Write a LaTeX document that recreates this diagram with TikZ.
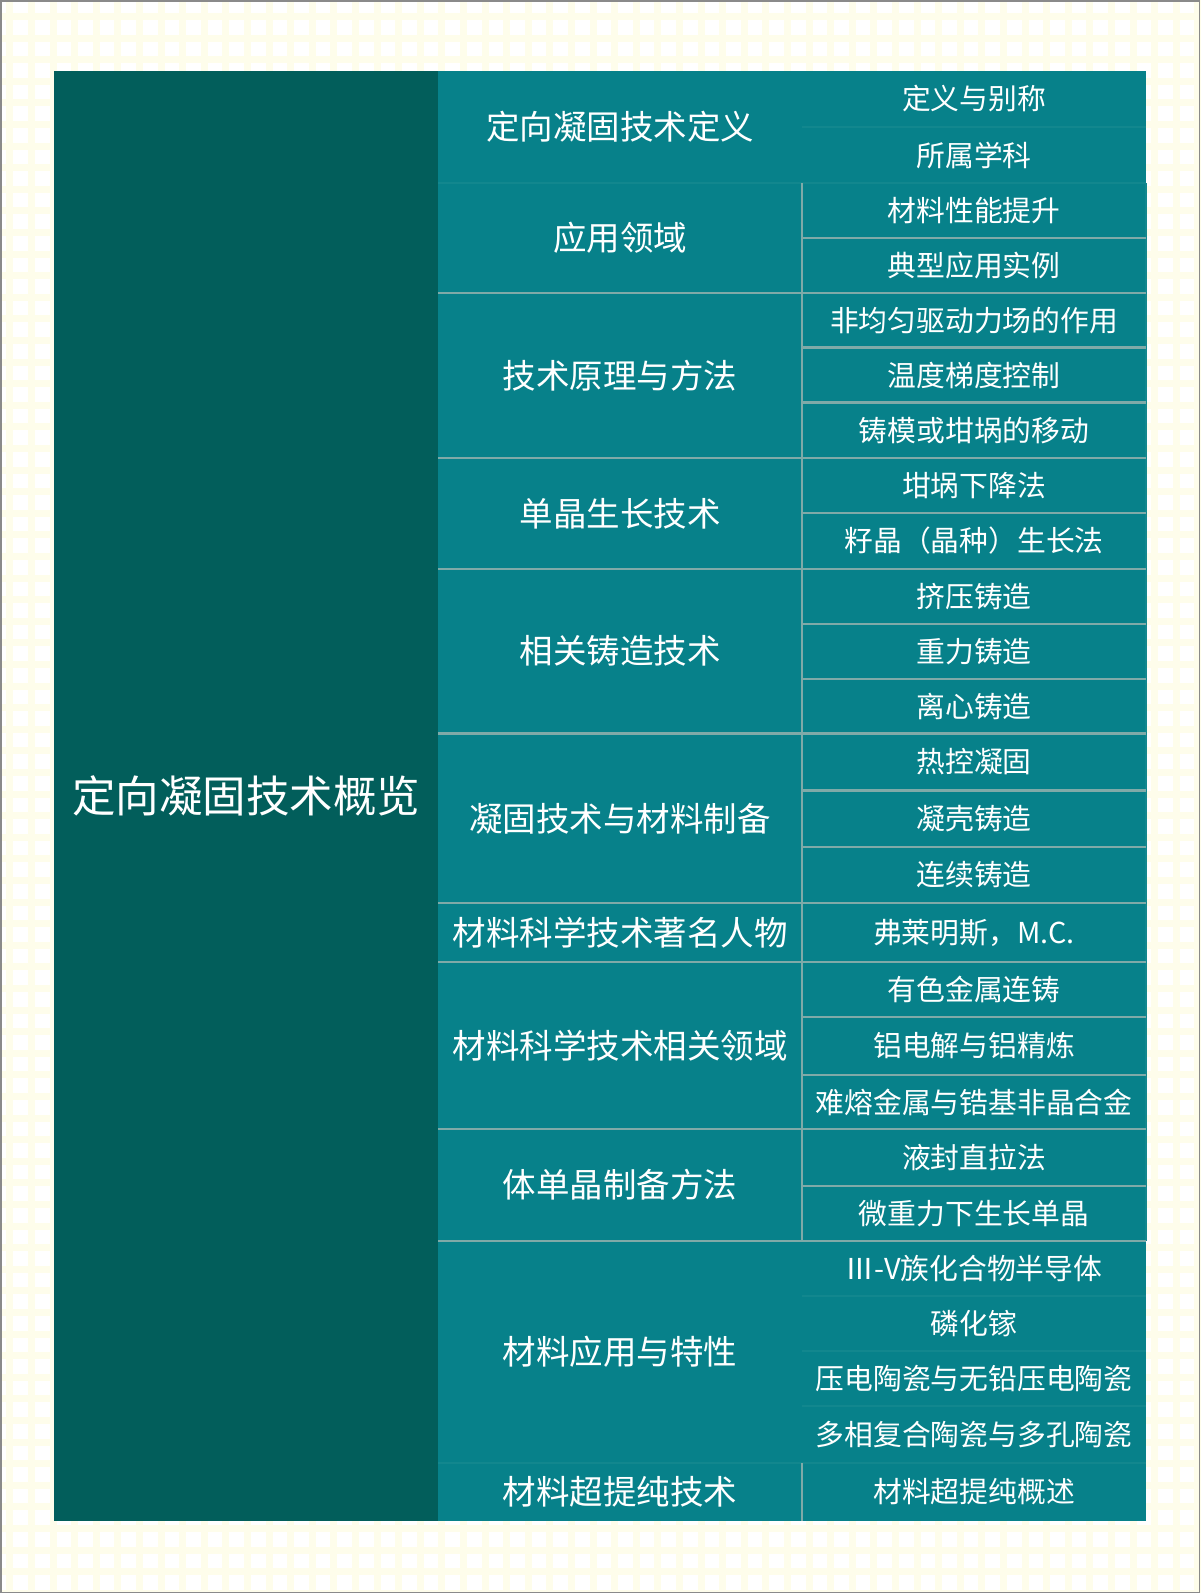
\documentclass[tikz,border=0pt]{standalone}
\usepackage{fontspec}
\setmainfont{Noto Sans CJK SC}
\definecolor{rootcol}{HTML}{025E5B}
\definecolor{tealcol}{HTML}{07818A}
\definecolor{linecol}{HTML}{7FAAA8}
\definecolor{faintcol}{HTML}{12878E}
\definecolor{gridcol}{HTML}{FEFDEB}
\definecolor{framecol}{HTML}{8A8A8A}
\newcommand\mkmid[4]{\node[midc, minimum height={#3-#2}] (#1) at (620,{(#2+#3)/2}) {#4};}
\newcommand\mkleaf[4]{\node[leafc, minimum height={#3-#2}] (#1) at (974,{(#2+#3)/2}) {#4};}
\begin{document}
\begin{tikzpicture}[x=1pt,y=-1pt,
  cellbase/.style={inner sep=0pt, outer sep=0pt, draw=none, text=white, anchor=center},
  rootc/.style={cellbase, fill=rootcol, minimum width=384, font=\fontsize{43.5}{50}\selectfont},
  midc/.style={cellbase, fill=tealcol, minimum width=364, font=\fontsize{33.5}{40}\selectfont},
  leafc/.style={cellbase, fill=tealcol, minimum width=344, font=\fontsize{28.8}{34}\selectfont},
  sepline/.style={draw=linecol, line width=2.5pt},
  faintline/.style={draw=faintcol, line width=1.2pt}]
\useasboundingbox (0,0) rectangle (1200,1593);
% background grid
\fill[white] (0,0) rectangle (1200,1593);
\foreach \i in {0,...,56} {\fill[gridcol] ({6.4+\i*21.6},0) rectangle +(7,1593);}
\foreach \j in {0,...,74} {\fill[gridcol] (0,{13+\j*21.6}) rectangle +(1200,7);}
\draw[framecol, line width=1.5pt] (0.75,0.75) rectangle (1199.25,1592.25);
% root
\node[rootc, minimum height=1450] (root) at (246,796) {定向凝固技术概览};
% middle column
\mkmid{g1}{71}{183}{定向凝固技术定义}
\mkmid{g2}{183}{293}{应用领域}
\mkmid{g3}{293}{458}{技术原理与方法}
\mkmid{g4}{458}{569}{单晶生长技术}
\mkmid{g5}{569}{733.5}{相关铸造技术}
\mkmid{g6}{733.5}{903}{凝固技术与材料制备}
\mkmid{g7}{903}{962}{材料科学技术著名人物}
\mkmid{g8}{962}{1129}{材料科学技术相关领域}
\mkmid{g9}{1129}{1241}{体单晶制备方法}
\mkmid{g10}{1241}{1463}{材料应用与特性}
\mkmid{g11}{1463}{1521}{材料超提纯技术}
% leaf column
\mkleaf{l1}{71}{127}{定义与别称}
\mkleaf{l2}{127}{183}{所属学科}
\mkleaf{l3}{183}{238}{材料性能提升}
\mkleaf{l4}{238}{293}{典型应用实例}
\mkleaf{l5}{293}{347.5}{非均匀驱动力场的作用}
\mkleaf{l6}{347.5}{402.5}{温度梯度控制}
\mkleaf{l7}{402.5}{458}{铸模或坩埚的移动}
\mkleaf{l8}{458}{513}{坩埚下降法}
\mkleaf{l9}{513}{569}{籽晶（晶种）生长法}
\mkleaf{l10}{569}{624}{挤压铸造}
\mkleaf{l11}{624}{679}{重力铸造}
\mkleaf{l12}{679}{733.5}{离心铸造}
\mkleaf{l13}{733.5}{790.5}{热控凝固}
\mkleaf{l14}{790.5}{847}{凝壳铸造}
\mkleaf{l15}{847}{903}{连续铸造}
\mkleaf{l16}{903}{962}{弗莱明斯，M.C.}
\mkleaf{l17}{962}{1017}{有色金属连铸}
\mkleaf{l18}{1017}{1075}{铝电解与铝精炼}
\mkleaf{l19}{1075}{1129}{难熔金属与锆基非晶合金}
\mkleaf{l20}{1129}{1186}{液封直拉法}
\mkleaf{l21}{1186}{1241}{微重力下生长单晶}
\mkleaf{l22}{1241}{1296}{Ⅲ-V族化合物半导体}
\mkleaf{l23}{1296}{1351}{磷化镓}
\mkleaf{l24}{1351}{1406}{压电陶瓷与无铅压电陶瓷}
\mkleaf{l25}{1406}{1463}{多相复合陶瓷与多孔陶瓷}
\mkleaf{l26}{1463}{1521}{材料超提纯概述}
% faint separators
\foreach \a/\b in {l1/l2, l22/l23, l23/l24, l24/l25}
  {\draw[faintline] (\a.south west) -- (\a.south east);}
\foreach \a in {g1, g10}
  {\draw[faintline] (\a.south west) -- (\a.south west -| l1.east);}
\draw[faintline] (l3.north east) -- (l21.south east);
% leaf separators
\foreach \a in {l3,l5,l6,l8,l10,l11,l13,l14,l17,l18,l20}
  {\draw[sepline] (\a.south west) -- (\a.south east);}
% group separators
\foreach \a in {g2,g3,g4,g5,g6,g7,g8,g9}
  {\draw[sepline] (\a.south west) -- (\a.south west -| l1.east);}
% vertical separators
\draw[sepline] (l3.north west) -- (l21.south west);
\draw[sepline] (l26.north west) -- (l26.south west);
\end{tikzpicture}
\end{document}
